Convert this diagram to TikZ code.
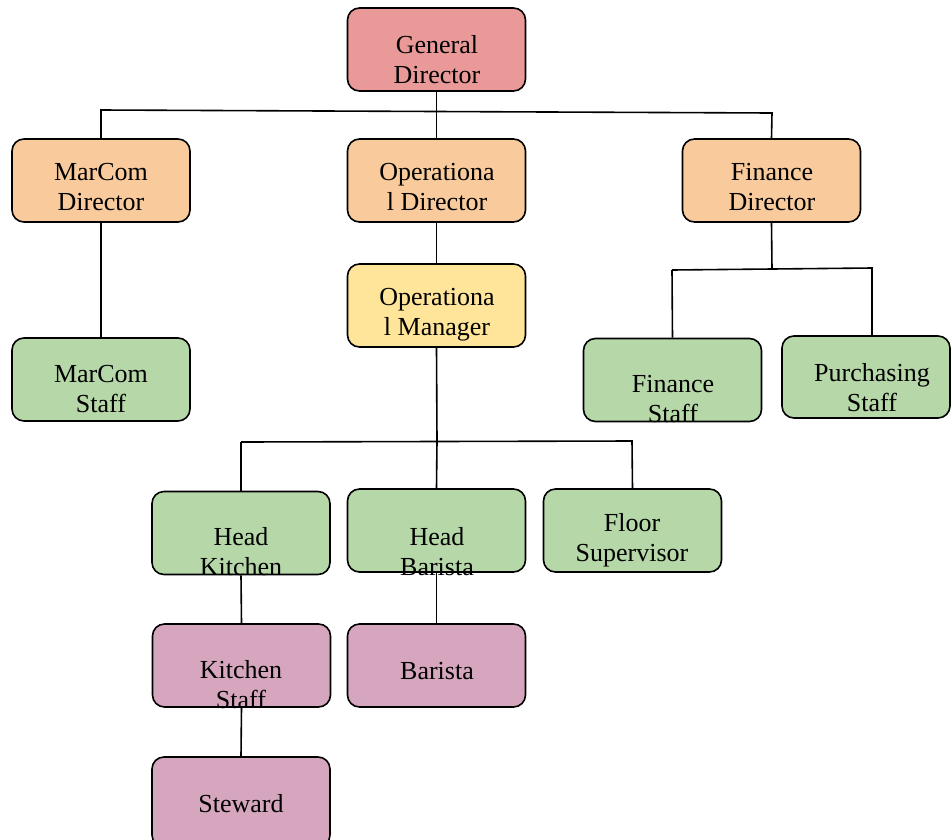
\documentclass[tikz,border=0pt]{standalone}
\usepackage{fontspec}
\setmainfont{Liberation Serif}
\definecolor{cred}{HTML}{EA9999}
\definecolor{corange}{HTML}{F9CB9C}
\definecolor{cyellow}{HTML}{FFE599}
\definecolor{cgreen}{HTML}{B6D7A8}
\definecolor{cpurple}{HTML}{D5A6BD}
\begin{document}
\begin{tikzpicture}[x=1pt,y=-1pt,
  box/.style={draw=black,line width=1.6pt,rounded corners=12pt,inner sep=0pt,minimum width=178pt,minimum height=83pt},
  txt/.style={inner sep=0pt,align=center,font=\fontsize{26}{30}\selectfont,anchor=base},
  conn/.style={line width=1.6pt,draw=black}]
\useasboundingbox (0,0) rectangle (951,839);
\begin{scope}
\clip (0,0) rectangle (951,839);
% boxes
\node[box,fill=cred] (GD) at (436.5,49.5) {};
\node[box,fill=corange] (MD) at (101,180.5) {};
\node[box,fill=corange] (OD) at (436.5,180.5) {};
\node[box,fill=corange] (FD) at (771.5,180.5) {};
\node[box,fill=cyellow] (OM) at (436.5,305.5) {};
\node[box,fill=cgreen] (MS) at (101,379.5) {};
\node[box,fill=cgreen] (FS) at (672.5,380) {};
\node[box,fill=cgreen,minimum width=168pt,minimum height=82pt] (PS) at (866,377) {};
\node[box,fill=cgreen] (HK) at (241,533) {};
\node[box,fill=cgreen] (HB) at (436.5,530.5) {};
\node[box,fill=cgreen] (FSup) at (632.5,530.5) {};
\node[box,fill=cpurple] (KS) at (241.5,665.5) {};
\node[box,fill=cpurple] (BA) at (436.5,665.5) {};
\node[box,fill=cpurple,minimum height=90pt] (ST) at (241,802) {};
% connector points
\coordinate (barL) at (101,110);
\coordinate (barM) at (437,111);
\coordinate (barR) at (772,113);
\coordinate (fbM) at (772,269);
\coordinate (fbL) at (672,270);
\coordinate (fbR) at (872,268);
\coordinate (fbRe) at (872,336);
\coordinate (obM) at (437,441);
\coordinate (obL) at (241,442);
\coordinate (obR) at (632,441);
% connectors
\draw[conn] (GD.south) -- (OD.north);
\draw[conn] (MD.north) -- (barL) -- (barR) -- (FD.north);
\draw[conn] (MD.south) -- (MS.north);
\draw[conn] (OD.south) -- (OM.north);
\draw[conn] (FD.south) -- (fbM);
\draw[conn] (fbL) -- (fbR) -- (fbRe);
\draw[conn] (fbL) -- (FS.north);
\draw[conn] (OM.south) -- (obM);
\draw[conn] (obL) -- (obR) -- (FSup.north);
\draw[conn] (obL) -- (HK.north);
\draw[conn] (obM) -- (HB.north);
\draw[conn] (HK.south) -- (KS.north);
\draw[conn] (KS.south) -- (ST.north);
\draw[conn] (HB.south) -- (BA.north);
% texts
\node[txt] (GDt) at (437,83) {General\\Director};
\node[txt] (MDt) at (101,210) {MarCom\\Director};
\node[txt] (ODt) at (437,210) {Operationa\\l Director};
\node[txt] (FDt) at (772,210) {Finance\\Director};
\node[txt] (OMt) at (437,335) {Operationa\\l Manager};
\node[txt] (MSt) at (101,412) {MarCom\\Staff};
\node[txt] (FSt) at (673,422) {Finance\\Staff};
\node[txt] (PSt) at (872,411) {Purchasing\\Staff};
\node[txt] (HKt) at (241,575) {Head\\Kitchen};
\node[txt] (HBt) at (437,575) {Head\\Barista};
\node[txt] (FSupt) at (632,561) {Floor\\Supervisor};
\node[txt] (KSt) at (241,708) {Kitchen\\Staff};
\node[txt] (BAt) at (437,679) {Barista};
\node[txt] (STt) at (241,812) {Steward};
\end{scope}
\end{tikzpicture}
\end{document}
